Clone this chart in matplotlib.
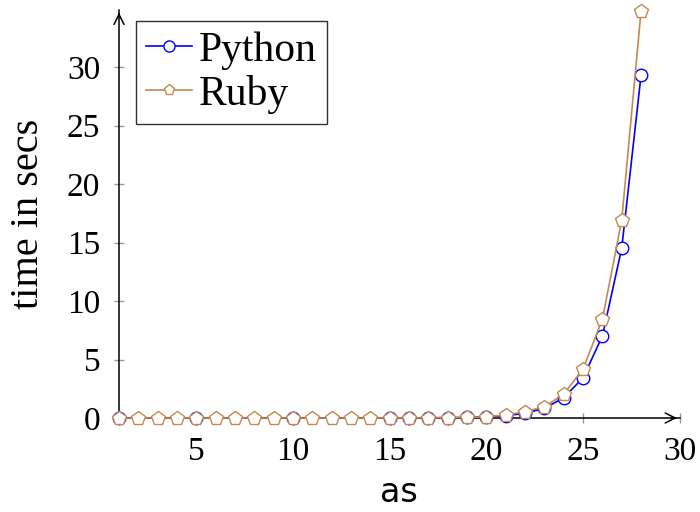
import matplotlib
matplotlib.use("Agg")
import matplotlib.pyplot as plt

# values
python_x = [1, 5, 10, 15, 16, 17, 18, 19, 20, 21, 22, 23, 24, 25, 26, 27, 28]
python_y = [0.0, 0.0, 0.0, 0.01, 0.01, 0.02, 0.03, 0.05, 0.1, 0.2, 0.4, 0.83, 1.73, 3.44, 7.0, 14.5, 29.3]
ruby_x = list(range(1, 29))
ruby_y = [0.0] * 14 + [0.01, 0.01, 0.02, 0.03, 0.05, 0.1, 0.25, 0.54, 0.97, 2.03, 4.19, 8.44, 16.9, 34.8]
x_ticks = [5, 10, 15, 20, 25, 30]
y_ticks = [0, 5, 10, 15, 20, 25, 30]

plt.rcParams["font.family"] = ["Liberation Serif", "DejaVu Serif"]

fig = plt.figure(figsize=(7, 5.12), dpi=100)
ax = fig.add_axes([0.17, 0.1836, 0.801, 0.797])

ax.plot(python_x, python_y, color="#0000ff", marker="o", markersize=9,
        markerfacecolor="white", markeredgecolor="#0000ff", lw=1.2,
        label="Python", clip_on=False, zorder=3)
ax.plot(ruby_x, ruby_y, color="#c48a50", marker="p", markersize=10,
        markerfacecolor="white", markeredgecolor="#c48a50", lw=1.2,
        label="Ruby", clip_on=False, zorder=4)

ax.set_xlim(1, 30)
ax.set_ylim(0, 34.9)
ax.set_xticks(x_ticks)
ax.set_yticks(y_ticks)
ax.tick_params(direction="inout", length=7, width=1, color="#999999",
               labelsize=24, pad=10)

for s in ["top", "right"]:
    ax.spines[s].set_visible(False)
for s in ["left", "bottom"]:
    ax.spines[s].set_linewidth(1.1)

# axis arrows
ax.annotate("", xy=(1.0, 0), xytext=(0.98, 0), xycoords="axes fraction",
            arrowprops=dict(arrowstyle="->", color="black", lw=1.1, mutation_scale=18))
ax.annotate("", xy=(0, 1.0), xytext=(0, 0.98), xycoords="axes fraction",
            arrowprops=dict(arrowstyle="->", color="black", lw=1.1, mutation_scale=18))

ax.set_xlabel("as", family="DejaVu Sans", fontsize=24, labelpad=6)
ax.set_ylabel("time in secs", fontsize=29, labelpad=14)

leg = ax.legend(loc="upper left", bbox_to_anchor=(0.03, 0.973), fontsize=30,
                frameon=True, fancybox=False, edgecolor="black",
                handlelength=1.1, handletextpad=0.15, borderpad=0.25,
                labelspacing=0.12, borderaxespad=0)
leg.get_frame().set_linewidth(1.0)
for h in leg.legend_handles:
    h.set_markersize(8)

fig.savefig("out.png", dpi=100)
